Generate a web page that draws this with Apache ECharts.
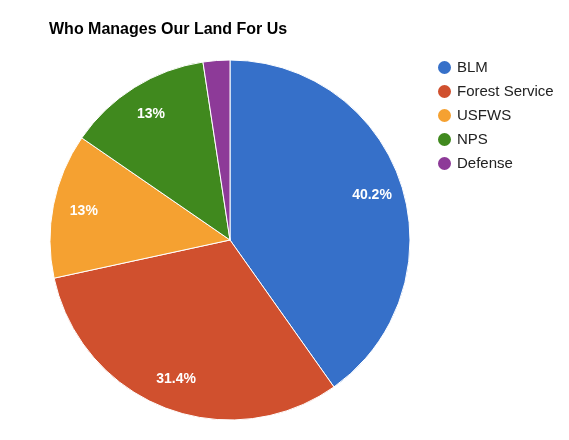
<!DOCTYPE html>
<html>
<head>
<meta charset="utf-8">
<script src="https://cdn.jsdelivr.net/npm/echarts@6/dist/echarts.min.js"></script>
<style>
  html, body { margin: 0; padding: 0; background: #fff; }
  #chart { width: 569px; height: 440px; }
</style>
</head>
<body>
<div id="chart"></div>
<script>
// land managed, share in percent
var agencies = ['BLM', 'Forest Service', 'USFWS', 'NPS', 'Defense'];
var shares = [40.2, 31.4, 13.0, 13.0, 2.4];
var colors = ['#3670c9', '#d0502e', '#f5a131', '#40891e', '#8d3a98'];

function buildData(){
    var list = [];
    for (var i = 0; i < agencies.length; i++){
        list.push({
            name: agencies[i],
            value: shares[i],
            itemStyle: { color: colors[i] }
        });
    }
    return list;
}

function pctLabel(p){
    if (p.percent < 5) return '';
    var v = Math.round(p.percent * 10) / 10;
    return v + '%';
}

var myChart = echarts.init(document.getElementById('chart'));
var option = {
    animation: false,
    title: {
        text: 'Who Manages Our Land For Us',
        left: 44,
        top: 17,
        textStyle: {
            fontFamily: 'Liberation Sans, Arial, sans-serif',
            fontSize: 16,
            fontWeight: 'bold',
            color: '#000'
        }
    },
    legend: {
        orient: 'vertical',
        left: 431,
        top: 54,
        icon: 'circle',
        itemWidth: 15,
        itemHeight: 15,
        itemGap: 7,
        data: agencies,
        textStyle: {
            fontFamily: 'Liberation Sans, Arial, sans-serif',
            fontSize: 15,
            color: '#222'
        }
    },
    series: [
        {
            name: 'land',
            type: 'pie',
            center: [230, 240],
            radius: [0, 180],
            startAngle: 90,
            clockwise: true,
            label: { show: false },
            labelLine: { show: false },
            emphasis: { disabled: true },
            itemStyle: { borderColor: '#fff', borderWidth: 1 },
            data: buildData()
        },
        {
            // transparent ring, only used to put the labels further out
            name: 'labels',
            type: 'pie',
            center: [230, 240],
            radius: [112, 180],
            startAngle: 90,
            clockwise: true,
            silent: true,
            legendHoverLink: false,
            emphasis: { disabled: true },
            itemStyle: { color: 'rgba(0,0,0,0)', borderWidth: 0 },
            label: {
                show: true,
                position: 'inside',
                formatter: pctLabel,
                color: '#fff',
                fontFamily: 'Liberation Sans, Arial, sans-serif',
                fontSize: 14,
                fontWeight: 'bold'
            },
            labelLine: { show: false },
            data: agencies.map(function (n, i){ return { name: n, value: shares[i] }; })
        }
    ]
};
myChart.setOption(option);
</script>
</body>
</html>
